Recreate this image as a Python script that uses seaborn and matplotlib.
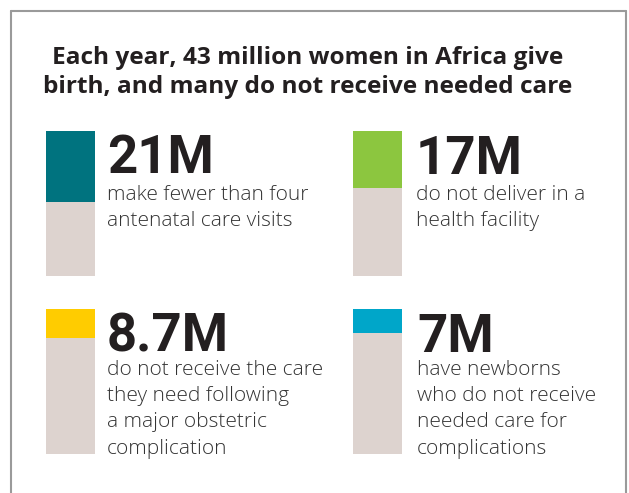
import numpy as np
import pandas as pd
import seaborn as sns
import matplotlib.pyplot as plt
from matplotlib.lines import Line2D

# data
total = 43  # million women giving birth each year
values = [21, 17, 8.7, 7]
big_labels = ["21M", "17M", "8.7M", "7M"]
descriptions = [
    ["make fewer than four", "antenatal care visits"],
    ["do not deliver in a", "health facility"],
    ["do not receive the care", "they need following", "a major obstetric", "complication"],
    ["have newborns", "who do not receive", "needed care for", "complications"],
]
colors = ["#00737f", "#8cc63f", "#ffcc00", "#00a6c9"]
rest_color = "#ddd3cf"

sns.set_theme(style="white")
plt.rcParams['font.family'] = ['Open Sans', 'DejaVu Sans']

W, H = 629, 493
fig = plt.figure(figsize=(W / 100, H / 100), dpi=100)
fig.patch.set_facecolor("white")

def fx(x):
    return x / W

def fy(y):
    return 1 - y / H

# frame (left, top, right)
border = "#9a9a9a"
fig.add_artist(Line2D([fx(11), fx(11)], [fy(11), 0], color=border, lw=1.5))
fig.add_artist(Line2D([fx(11), fx(626)], [fy(11), fy(11)], color=border, lw=1.5))
fig.add_artist(Line2D([fx(626), fx(626)], [fy(11), 0], color=border, lw=1.5))

fig.text(fx(308), fy(64), "Each year, 43 million women in Africa give", ha="center", va="baseline",
         fontsize=17.6, fontweight="bold", color="#231f20")
fig.text(fx(308), fy(93), "birth, and many do not receive needed care", ha="center", va="baseline",
         fontsize=17.6, fontweight="bold", color="#231f20")

# panel layout: bar left/top in pixels, text x, number baseline, first desc baseline
bar_w, bar_h = 49, 145
panels = [
    (46, 131, 107, 173, 200),
    (353, 131, 416, 174, 200),
    (46, 309, 107, 352, 375),
    (353, 309, 417, 352, 375),
]

for i, (bx, by, tx, nb, db) in enumerate(panels):
    ax = fig.add_axes([fx(bx), fy(by + bar_h), bar_w / W, bar_h / H])
    d = pd.DataFrame({"k": [0], "total": [total], "v": [values[i]]})
    sns.barplot(data=d, x="k", y="total", color=rest_color, saturation=1, width=1, linewidth=0, ax=ax)
    sns.barplot(data=d, x="k", y="v", color=colors[i], saturation=1, width=1, linewidth=0, ax=ax)
    ax.set_xlim(-0.5, 0.5)
    ax.set_ylim(total, 0)
    ax.axis("off")

    fig.text(fx(tx), fy(nb), big_labels[i], ha="left", va="baseline", fontsize=38,
             fontweight="bold", family=["Roboto", "DejaVu Sans"], color="#231f20")
    for j, line in enumerate(descriptions[i]):
        fig.text(fx(tx), fy(db + j * 26.2), line, ha="left", va="baseline", fontsize=15,
                 fontweight="light", color="#333333")

fig.savefig("out.png", dpi=100)
